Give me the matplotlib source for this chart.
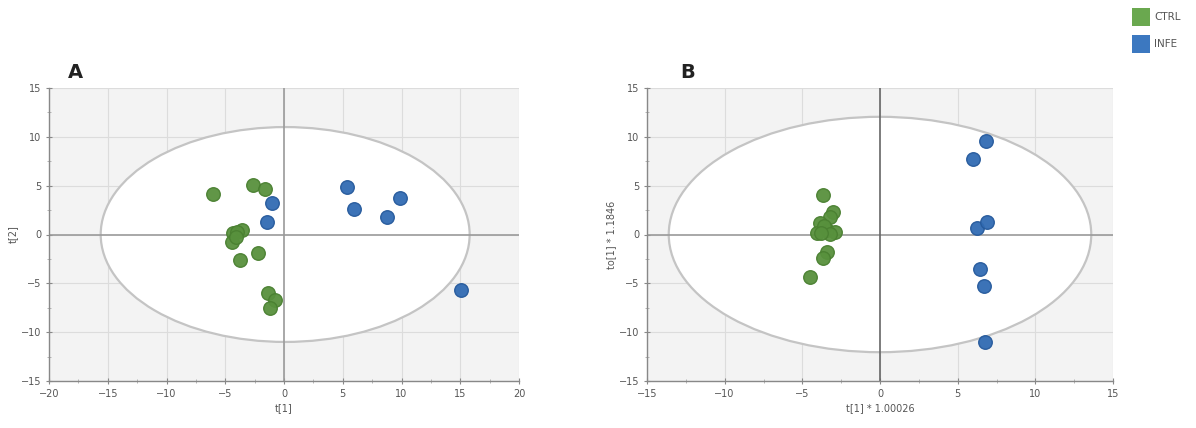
import matplotlib
matplotlib.use("Agg")
import matplotlib.pyplot as plt
from matplotlib.patches import Ellipse, Rectangle
from matplotlib.ticker import MultipleLocator

# ---- data ----
groups = ["CTRL", "INFE"]
colors = {"CTRL": "#58913d", "INFE": "#316bb3"}
edge_colors = {"CTRL": "#4a8031", "INFE": "#265a9c"}
legend_colors = {"CTRL": "#6aa84f", "INFE": "#3c78c0"}

a_ctrl_x = [-6.04, -2.64, -1.62, -4.34, -3.57, -4.43, -4.0, -4.1, -3.74, -2.21, -1.36, -0.77, -1.19]
a_ctrl_y = [4.15, 5.07, 4.66, 0.15, 0.46, -0.77, 0.3, -0.3, -2.61, -1.89, -5.99, -6.70, -7.52]
a_infe_x = [-1.02, -1.45, 5.34, 5.95, 8.79, 9.83, 15.05]
a_infe_y = [3.22, 1.28, 4.90, 2.63, 1.78, 3.71, -5.68]

b_ctrl_x = [-3.67, -3.03, -3.22, -3.86, -3.41, -4.06, -2.90, -3.6, -3.2, -3.8, -3.41, -3.67, -4.50]
b_ctrl_y = [4.04, 2.30, 1.79, 1.18, 0.46, 0.15, 0.26, 0.9, 0.1, 0.2, -1.79, -2.40, -4.35]
b_infe_x = [6.84, 5.97, 6.27, 6.88, 6.45, 6.68, 6.79]
b_infe_y = [9.58, 7.71, 0.66, 1.27, -3.54, -5.27, -11.03]

a_ellipse = (0.1, 0.0, 15.7, 11.0)   # cx, cy, semi-x, semi-y
b_ellipse = (0.0, 0.0, 13.6, 12.05)

a_xlim, a_ylim = (-20, 20), (-15, 15)
b_xlim, b_ylim = (-15, 15), (-15, 15)

fig = plt.figure(figsize=(11.96, 4.28), dpi=100)
W, H = 1196, 428

def make_ax(left_px, right_px, xlim, ylim, ell, ctrl, infe, xlabel, ylabel, letter, letter_x, vcolor):
    top_px, bot_px = 88, 381
    ax = fig.add_axes([left_px / W, 1 - bot_px / H, (right_px - left_px) / W, (bot_px - top_px) / H])
    ax.set_facecolor("#f3f3f3")
    ax.set_xlim(*xlim)
    ax.set_ylim(*ylim)
    ax.xaxis.set_major_locator(MultipleLocator(5))
    ax.yaxis.set_major_locator(MultipleLocator(5))
    ax.xaxis.set_minor_locator(MultipleLocator(2.5))
    ax.yaxis.set_minor_locator(MultipleLocator(2.5))
    ax.grid(True, which="major", color="#dcdcdc", lw=0.8, zorder=0)
    ax.set_axisbelow(True)
    cx, cy, sx, sy = ell
    ax.add_patch(Ellipse((cx, cy), 2 * sx, 2 * sy, facecolor="white", edgecolor="#c4c4c4", lw=1.6, zorder=1))
    ax.axhline(0, color="#9a9a9a", lw=1.2, zorder=2)
    ax.axvline(0, color=vcolor, lw=1.2, zorder=2)
    for g, (xs, ys) in zip(groups, [ctrl, infe]):
        ax.scatter(xs, ys, s=95, color=colors[g], edgecolors=edge_colors[g], linewidths=1.0, alpha=0.95, zorder=3)
    for s in ["top", "right"]:
        ax.spines[s].set_visible(False)
    for s in ["left", "bottom"]:
        ax.spines[s].set_color("#888888")
        ax.spines[s].set_linewidth(1.0)
    ax.tick_params(which="major", direction="inout", length=5, color="#888888", labelsize=7, labelcolor="#555555", pad=3)
    ax.tick_params(which="minor", direction="inout", length=3, color="#aaaaaa")
    ax.set_xlabel(xlabel, fontsize=7, color="#555555", labelpad=3)
    ax.set_ylabel(ylabel, fontsize=7, color="#555555", labelpad=2)
    fig.text(letter_x / W, 1 - 72 / H, letter, fontsize=14, fontweight="bold", ha="center", va="center", color="#222222")
    return ax

make_ax(49, 519, a_xlim, a_ylim, a_ellipse, (a_ctrl_x, a_ctrl_y), (a_infe_x, a_infe_y),
        "t[1]", "t[2]", "A", 75, "#9a9a9a")
make_ax(647, 1113, b_xlim, b_ylim, b_ellipse, (b_ctrl_x, b_ctrl_y), (b_infe_x, b_infe_y),
        "t[1] * 1.00026", "to[1] * 1.1846", "B", 688, "#666666")

# legend
for i, g in enumerate(groups):
    yc = 17 + i * 27
    fig.patches.append(Rectangle(((1132) / W, 1 - (yc + 9) / H), 18 / W, 18 / H,
                                 transform=fig.transFigure, facecolor=legend_colors[g], edgecolor="none"))
    fig.text(1154 / W, 1 - yc / H, g, fontsize=7.5, color="#555555", ha="left", va="center")

fig.savefig("out.png", dpi=100, facecolor="white")
